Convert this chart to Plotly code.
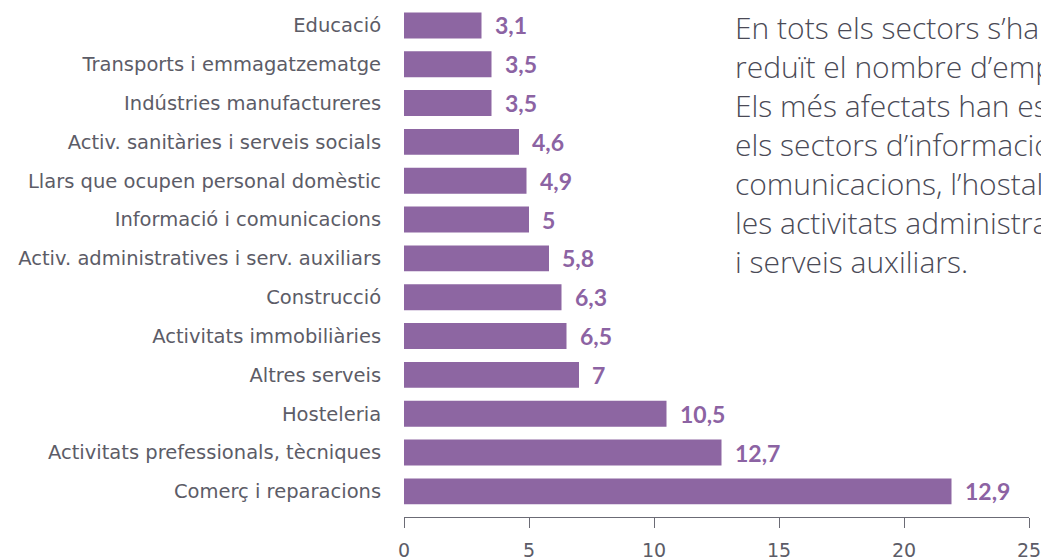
import plotly.graph_objects as go

categories = [
    "Educació",
    "Transports i emmagatzematge",
    "Indústries manufactureres",
    "Activ. sanitàries i serveis socials",
    "Llars que ocupen personal domèstic",
    "Informació i comunicacions",
    "Activ. administratives i serv. auxiliars",
    "Construcció",
    "Activitats immobiliàries",
    "Altres serveis",
    "Hosteleria",
    "Activitats prefessionals, tècniques",
    "Comerç i reparacions",
]
bar_values = [3.1, 3.5, 3.5, 4.6, 4.9, 5.0, 5.8, 6.3, 6.5, 7.0, 10.5, 12.7, 21.9]
value_labels = ["3,1", "3,5", "3,5", "4,6", "4,9", "5", "5,8", "6,3", "6,5", "7", "10,5", "12,7", "12,9"]
x_ticks = [0, 5, 10, 15, 20, 25]

note_lines = [
    "En tots els sectors s’ha",
    "reduït el nombre d’empreses.",
    "Els més afectats han estat",
    "els sectors d’informació i",
    "comunicacions, l’hostaleria i",
    "les activitats administratives",
    "i serveis auxiliars.",
]

PURPLE = "#8d66a2"
LABEL_PURPLE = "#8c63a3"
GRAY = "#5c5c67"

fig = go.Figure()
fig.add_trace(go.Bar(
    x=bar_values, y=categories, orientation="h",
    marker=dict(color=PURPLE, line=dict(width=0)),
    hoverinfo="skip",
))

for v, c, t in zip(bar_values, categories, value_labels):
    fig.add_annotation(
        x=v, y=c, xref="x", yref="y", text=t, showarrow=False,
        xanchor="left", yanchor="middle", xshift=11,
        font=dict(family="Lato", size=23, color=LABEL_PURPLE, weight=700),
    )

# note text (handwritten style in the original)
W, H = 1041, 559
ml, mr, mt, mb = 404, 11.5, 5.5, 41.5
plot_h = H - mt - mb
line_spacing = 39.0
first_center = 27.0
for i, line in enumerate(note_lines):
    py = first_center + i * line_spacing
    fig.add_annotation(
        x=0.526, y=(H - mb - py) / plot_h, xref="paper", yref="paper",
        text=line, showarrow=False, xanchor="left", yanchor="middle",
        font=dict(family="Open Sans", size=30, color="#4a4a56", weight=300),
    )

fig.update_layout(
    width=W, height=H,
    margin=dict(l=ml, r=mr, t=mt, b=mb, pad=0, autoexpand=False),
    paper_bgcolor="white", plot_bgcolor="white",
    bargap=0.332,
    showlegend=False,
    xaxis=dict(
        range=[0, 25], tickvals=x_ticks, ticktext=[str(t) for t in x_ticks],
        showgrid=False, zeroline=False, automargin=False,
        showline=True, linecolor="#6b6b75", linewidth=1,
        ticks="outside", ticklen=10, tickcolor="#6b6b75", tickwidth=1,
        ticklabelstandoff=6, ticklabeloverflow="allow",
        tickfont=dict(family="DejaVu Sans", size=19, color=GRAY),
        fixedrange=True,
    ),
    yaxis=dict(
        categoryorder="array", categoryarray=categories,
        range=[12.66, -0.5], automargin=False,
        showgrid=False, zeroline=False, showline=False,
        ticks="outside", ticklen=18, tickcolor="rgba(0,0,0,0)",
        tickfont=dict(family="DejaVu Sans", size=19.5, color=GRAY),
        fixedrange=True,
    ),
)

fig.write_html(
    "out.html",
    config={"displayModeBar": False},
    post_script="document.body.style.margin='0';",
)
